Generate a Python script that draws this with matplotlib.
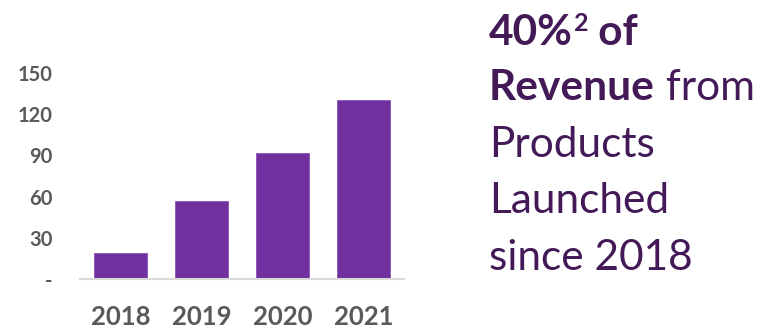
import matplotlib
matplotlib.use("Agg")
import matplotlib.pyplot as plt
from matplotlib.ticker import FuncFormatter

# data
years = ["2018", "2019", "2020", "2021"]
values = [19, 57, 92, 130]
y_ticks = [0, 30, 60, 90, 120, 150]

BAR_COLOR = "#7030a0"
TICK_COLOR = "#595959"
TEXT_COLOR = "#431a57"
AXIS_COLOR = "#d9d9d9"
FONT = "Lato"

fig = plt.figure(figsize=(7.65, 3.3), dpi=100)
ax = fig.add_axes([80 / 765, 51 / 330, 324 / 765, 206 / 330])

ax.bar(years, values, width=0.66, color=BAR_COLOR, edgecolor="#8a55b5", linewidth=0.6, zorder=2)
ax.set_xlim(-0.5, 3.5)
ax.set_ylim(0, 150)
ax.set_yticks(y_ticks)
ax.yaxis.set_major_formatter(FuncFormatter(lambda v, p: "-" if v == 0 else f"{v:.0f}"))

for side in ["top", "right", "left"]:
    ax.spines[side].set_visible(False)
ax.spines["bottom"].set_color(AXIS_COLOR)
ax.spines["bottom"].set_linewidth(1.5)
ax.tick_params(axis="both", length=0)
ax.tick_params(axis="y", pad=20)
ax.tick_params(axis="x", pad=19)
for t in ax.get_yticklabels():
    t.set_fontfamily(FONT)
    t.set_fontweight("bold")
    t.set_fontsize(14.5)
    t.set_color(TICK_COLOR)
for t in ax.get_xticklabels():
    t.set_fontfamily(FONT)
    t.set_fontweight("bold")
    t.set_fontsize(18.5)
    t.set_color(TICK_COLOR)

# the text block on the right, mixed bold and regular runs
fig.canvas.draw()
renderer = fig.canvas.get_renderer()
size = 30.5
x0 = 489 / 765


def run(x, y, s, weight="normal", fs=size):
    t = fig.text(x, y, s, fontsize=fs, fontweight=weight, color=TEXT_COLOR,
                 fontfamily=FONT, ha="left", va="baseline")
    bb = t.get_window_extent(renderer)
    return bb.x1 / fig.bbox.width


baselines = [285, 230, 173, 117, 60]
b = [v / 330 for v in baselines]

xe = run(x0, b[0], "40%", "bold")
xe = run(xe + 0.001, b[0] + 14 / 330, "2", "bold", fs=18)
run(xe, b[0], " of", "bold")
xe = run(x0, b[1], "Revenue", "bold")
run(xe, b[1], " from")
run(x0, b[2], "Products")
run(x0, b[3], "Launched")
run(x0, b[4], "since 2018")

fig.savefig("out.png", dpi=100)
